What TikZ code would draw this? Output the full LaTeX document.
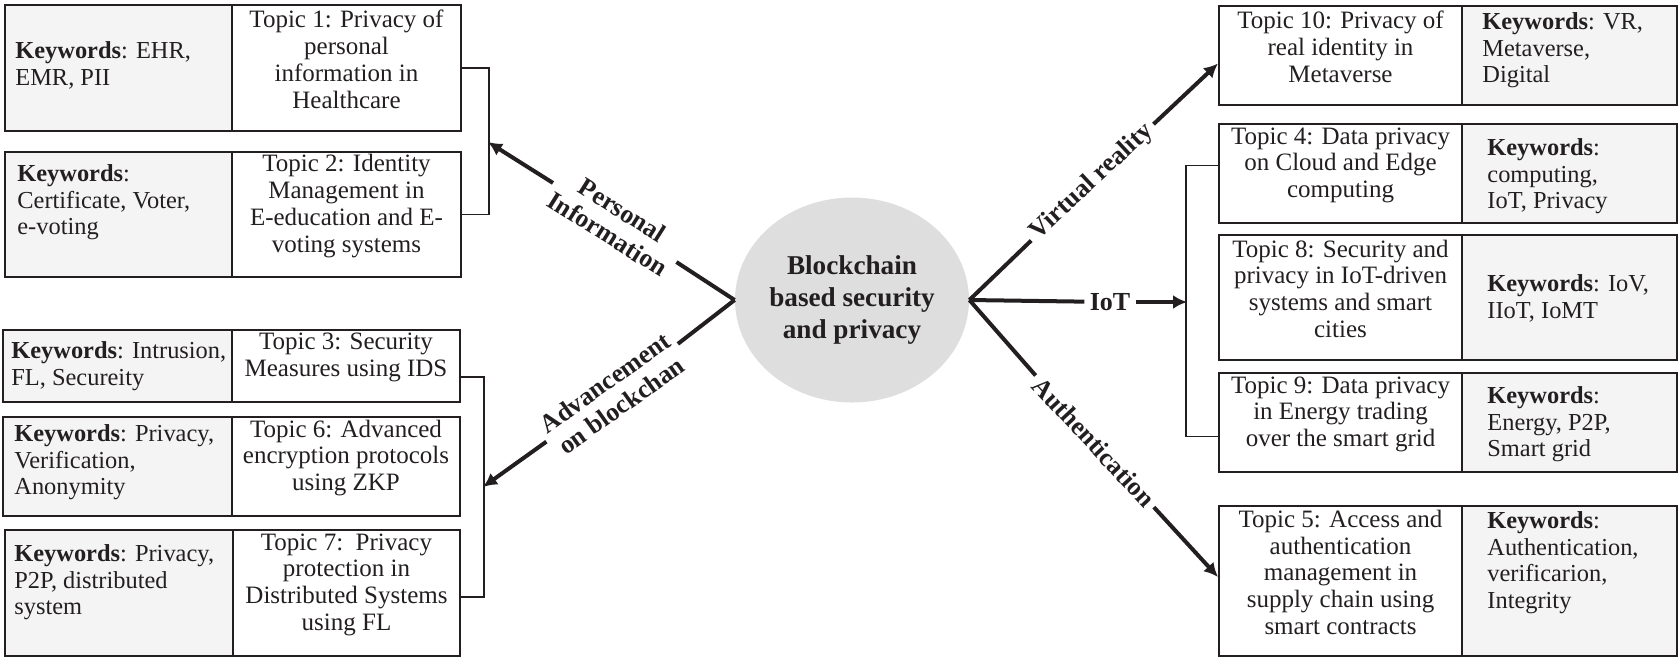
\documentclass[tikz,border=0pt]{standalone}
\usepackage{fontspec}
\setmainfont{Liberation Serif}
\usetikzlibrary{arrows.meta,shapes.geometric,fit}

\definecolor{ink}{HTML}{231F20}
\definecolor{kwgray}{HTML}{F4F4F4}
\definecolor{hubgray}{HTML}{DEDEDE}

\tikzset{
  topicbox/.style={draw=ink, line width=1pt, inner sep=0pt, align=center, text=ink,
    font=\fontsize{12.5}{13.4}\selectfont},
  kwbox/.style={draw=ink, fill=kwgray, line width=1pt, inner sep=0pt},
  kwtext/.style={anchor=north west, inner sep=0pt, align=left, text=ink,
    font=\fontsize{12.2}{13.4}\selectfont},
  hub/.style={ellipse, fill=hubgray, minimum width=110.5pt, minimum height=102.5pt,
    inner sep=0pt, align=center, text=ink, font=\bfseries\fontsize{13.6}{16}\selectfont},
  link/.style={draw=ink, line width=2pt},
  pointer/.style={link, -{Latex[length=7pt,width=7pt]}},
  bracketline/.style={draw=ink, line width=0.75pt},
  linklabel/.style={inner sep=2.5pt, align=center, text=ink,
    font=\bfseries\fontsize{13}{14}\selectfont},
}

\begin{document}
\begin{tikzpicture}[x=0.5pt, y=-0.5pt]
\useasboundingbox (0,0) rectangle (1679,671);

% left column
\node[kwbox, fit={(5,5) (232,131)}] (kw1) {};
\node[topicbox, fit={(232,5) (461,131)}] (tp1) {Topic 1: Privacy of\\personal\\information in\\Healthcare};
\node[kwtext] (kt1) at (15,41) {\textbf{Keywords}: EHR,\\EMR, PII};

\node[kwbox, fit={(5,152) (232,277)}] (kw2) {};
\node[topicbox, fit={(232,152) (461,277)}] (tp2) {Topic 2: Identity\\Management in\\E-education and E-\\voting systems};
\node[kwtext] (kt2) at (17,164) {\textbf{Keywords}:\\Certificate, Voter,\\e-voting};

\node[kwbox, fit={(3,330) (232,402)}] (kw3) {};
\node[topicbox, fit={(232,330) (460,402)}] (tp3) {Topic 3: Security\\Measures using IDS};
\node[kwtext] (kt3) at (11,341) {\textbf{Keywords}: Intrusion,\\FL, Secureity};

\node[kwbox, fit={(3,417) (232,516)}] (kw6) {};
\node[topicbox, fit={(232,417) (460,516)}] (tp6) {Topic 6: Advanced\\encryption protocols\\using ZKP};
\node[kwtext] (kt6) at (14,424) {\textbf{Keywords}: Privacy,\\Verification,\\Anonymity};

\node[kwbox, fit={(5,530) (233,656)}] (kw7) {};
\node[topicbox, fit={(233,530) (460,656)}] (tp7) {Topic 7:\ \ Privacy\\protection in\\Distributed Systems\\using FL};
\node[kwtext] (kt7) at (14,544) {\textbf{Keywords}: Privacy,\\P2P, distributed\\system};

% right column
\node[kwbox, fit={(1462,6) (1677,105)}] (kw10) {};
\node[topicbox, fit={(1219,6) (1462,105)}] (tp10) {Topic 10: Privacy of\\real identity in\\Metaverse};
\node[kwtext] (kt10) at (1482,12) {\textbf{Keywords}: VR,\\Metaverse,\\Digital};

\node[kwbox, fit={(1462,124) (1677,223)}] (kw4) {};
\node[topicbox, fit={(1219,124) (1462,223)}] (tp4) {Topic 4: Data privacy\\on Cloud and Edge\\computing};
\node[kwtext] (kt4) at (1487,138) {\textbf{Keywords}:\\computing,\\IoT, Privacy};

\node[kwbox, fit={(1462,235) (1677,360)}] (kw8) {};
\node[topicbox, fit={(1219,235) (1462,360)}] (tp8) {Topic 8: Security and\\privacy in IoT-driven\\systems and smart\\cities};
\node[kwtext] (kt8) at (1487,274) {\textbf{Keywords}: IoV,\\IIoT, IoMT};

\node[kwbox, fit={(1462,373) (1677,472)}] (kw9) {};
\node[topicbox, fit={(1219,373) (1462,472)}] (tp9) {Topic 9: Data privacy\\in Energy trading\\over the smart grid};
\node[kwtext] (kt9) at (1487,386) {\textbf{Keywords}:\\Energy, P2P,\\Smart grid};

\node[kwbox, fit={(1462,506) (1677,656)}] (kw5) {};
\node[topicbox, fit={(1219,506) (1462,656)}] (tp5) {Topic 5: Access and\\authentication\\management in\\supply chain using\\smart contracts};
\node[kwtext] (kt5) at (1487,511) {\textbf{Keywords}:\\Authentication,\\verificarion,\\Integrity};

% brackets
\draw[bracketline] (tp1.east) -- ++(27,0) |- (tp2.east);
\draw[bracketline] ([yshift=-5.5pt]tp3.east) -- ++(23,0) |- ([yshift=-2pt]tp7.east);
\draw[bracketline] ([yshift=4pt]tp4.west) -- ++(-32,0) |- ([yshift=-7pt]tp9.west);
\coordinate (pinA) at (488,142);
\coordinate (pinB) at (483,487);
\coordinate (pinC) at (1187,302);

% centre and branches
\node[hub] (hub) at (852,300) {Blockchain\\based security\\and privacy};

\node[linklabel, rotate=-32.2] (lbA) at (615,222) {Personal\\Information};
\node[linklabel, rotate=35.5] (lbB) at (613,394) {Advancement\\on blockchan};
\node[linklabel, rotate=43] (lbC) at (1092,182) {Virtual reality};
\node[linklabel] (lbD) at (1110,302) {IoT};
\node[linklabel, rotate=-47] (lbE) at (1094,442) {Authentication};

\draw[link] (hub.west) -- (lbA);
\draw[pointer] (lbA) -- (pinA);
\draw[link] (hub.west) -- (lbB);
\draw[pointer] (lbB) -- (pinB);
\draw[link] (hub.east) -- (lbC);
\draw[pointer] (lbC) -- ([yshift=-4pt]tp10.west);
\draw[link] (hub.east) -- (lbD);
\draw[pointer] (lbD) -- (pinC);
\draw[link] (hub.east) -- (lbE);
\draw[pointer] (lbE) -- ([yshift=2pt]tp5.west);

\end{tikzpicture}
\end{document}
